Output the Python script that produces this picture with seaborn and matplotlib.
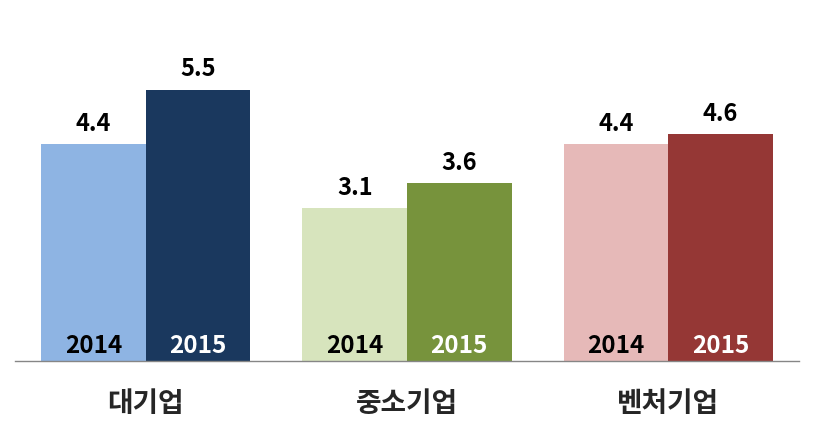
import matplotlib
matplotlib.use("Agg")
import matplotlib.pyplot as plt
import pandas as pd
import seaborn as sns

categories = ["대기업", "중소기업", "벤처기업"]
years = ["2014", "2015"]
values_2014 = [4.4, 3.1, 4.4]
values_2015 = [5.5, 3.6, 4.6]
colors_2014 = ["#8EB4E3", "#D7E4BD", "#E6B9B8"]
colors_2015 = ["#1A385E", "#77933C", "#953735"]

df = pd.DataFrame({
    "category": categories * 2,
    "year": [years[0]] * 3 + [years[1]] * 3,
    "value": values_2014 + values_2015,
})

sns.set_style("white")
plt.rcParams["font.family"] = ["Noto Sans CJK KR", "DejaVu Sans"]

fig = plt.figure(figsize=(8.14, 4.34), dpi=100)
ax = fig.add_axes([15 / 814, 73 / 434, 784 / 814, 296 / 434])

sns.barplot(data=df, x="category", y="value", hue="year", order=categories,
            hue_order=years, width=0.8, dodge=True, legend=False, ax=ax,
            saturation=1)

year_colors = {0: colors_2014, 1: colors_2015}
text_colors = {0: "black", 1: "white"}
for i, cont in enumerate(ax.containers):
    for bar, c in zip(cont, year_colors[i]):
        bar.set_facecolor(c)
        bar.set_edgecolor("none")
        ax.annotate(years[i], (bar.get_x() + bar.get_width() / 2, 0),
                    xytext=(0, 2), textcoords="offset points",
                    ha="center", va="bottom", fontsize=17.5,
                    fontweight="bold", color=text_colors[i])
    ax.bar_label(cont, fmt="%.1f", padding=6, fontsize=17,
                 fontweight="bold", color="black")

ax.set_xlim(-0.5, 2.5)
ax.set_ylim(0, 6)
ax.set_yticks([])
ax.set_xlabel("")
ax.set_ylabel("")
ax.tick_params(axis="x", length=0, pad=21)
for lbl in ax.get_xticklabels():
    lbl.set_fontsize(20)
    lbl.set_fontweight("bold")
for s in ["top", "left", "right"]:
    ax.spines[s].set_visible(False)
ax.spines["bottom"].set_color("#868686")
ax.spines["bottom"].set_linewidth(1)

fig.savefig("out.png", dpi=100, facecolor="white")
